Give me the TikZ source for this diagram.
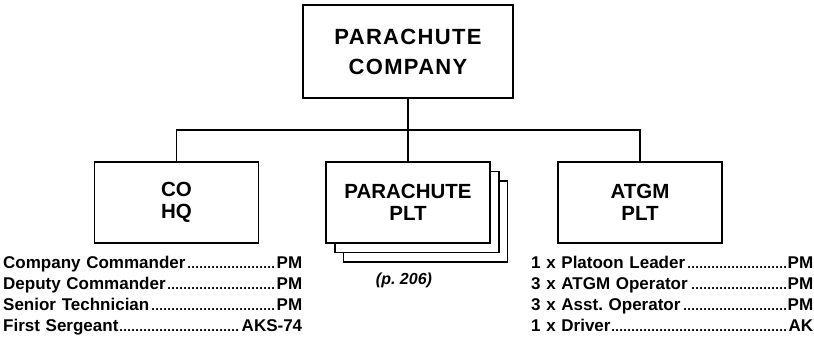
\documentclass[tikz,border=0pt]{standalone}
\usepackage{fontspec}
\setmainfont{Liberation Sans}
\usetikzlibrary{positioning}
\newcommand\leaderline[2]{#1\leaders\hbox to 4pt{\hss\fontsize{13}{13}\selectfont.\hss}\hfill#2}

\begin{document}
\begin{tikzpicture}[x=1pt,y=-1pt,
	box/.style={draw,line width=1.5pt,fill=white,align=center,minimum width=164pt,minimum height=81pt,font=\fontsize{20.5}{22}\selectfont\bfseries},
	link/.style={line width=1.5pt},
	roster/.style={inner sep=0pt,anchor=north west,align=left,font=\fontsize{17}{21}\selectfont\bfseries}]
\useasboundingbox (0,0) rectangle (814,354);
\node[box,minimum width=210pt,minimum height=93pt,font=\fontsize{22}{30}\selectfont\bfseries\addfontfeature{LetterSpace=6}] (company) at (408,51.5) {PARACHUTE\\COMPANY};
\node[box] (hq) at (176.5,202.5) {CO\\HQ};
\node[box] (plt3) at (425.5,221.5) {};
\node[box] (plt2) at (417,212) {};
\node[box] (plt) at (408,202.5) {PARACHUTE\\PLT};
\node[box] (atgm) at (640,202.5) {ATGM\\PLT};
\node[font=\fontsize{16}{16}\selectfont\bfseries\itshape] (page) at (404,280) {(p.~206)};
\node[roster,text width=299pt] (hqlist) at (3,256) {
	\leaderline{Company Commander}{PM}\\
	\leaderline{Deputy Commander}{PM}\\
	\leaderline{Senior Technician}{PM}\\
	\leaderline{First Sergeant}{AKS-74}};
\node[roster,text width=282pt] (atgmlist) at (531,256) {
	\leaderline{1 x Platoon Leader}{PM}\\
	\leaderline{3 x ATGM Operator}{PM}\\
	\leaderline{3 x Asst.\ Operator}{PM}\\
	\leaderline{1 x Driver}{AK}};
\coordinate (bus) at (408,130);
\draw[link] (company.south) -- (plt.north);
\draw[link] (hq.north) |- (bus) -| (atgm.north);
\end{tikzpicture}
\end{document}
